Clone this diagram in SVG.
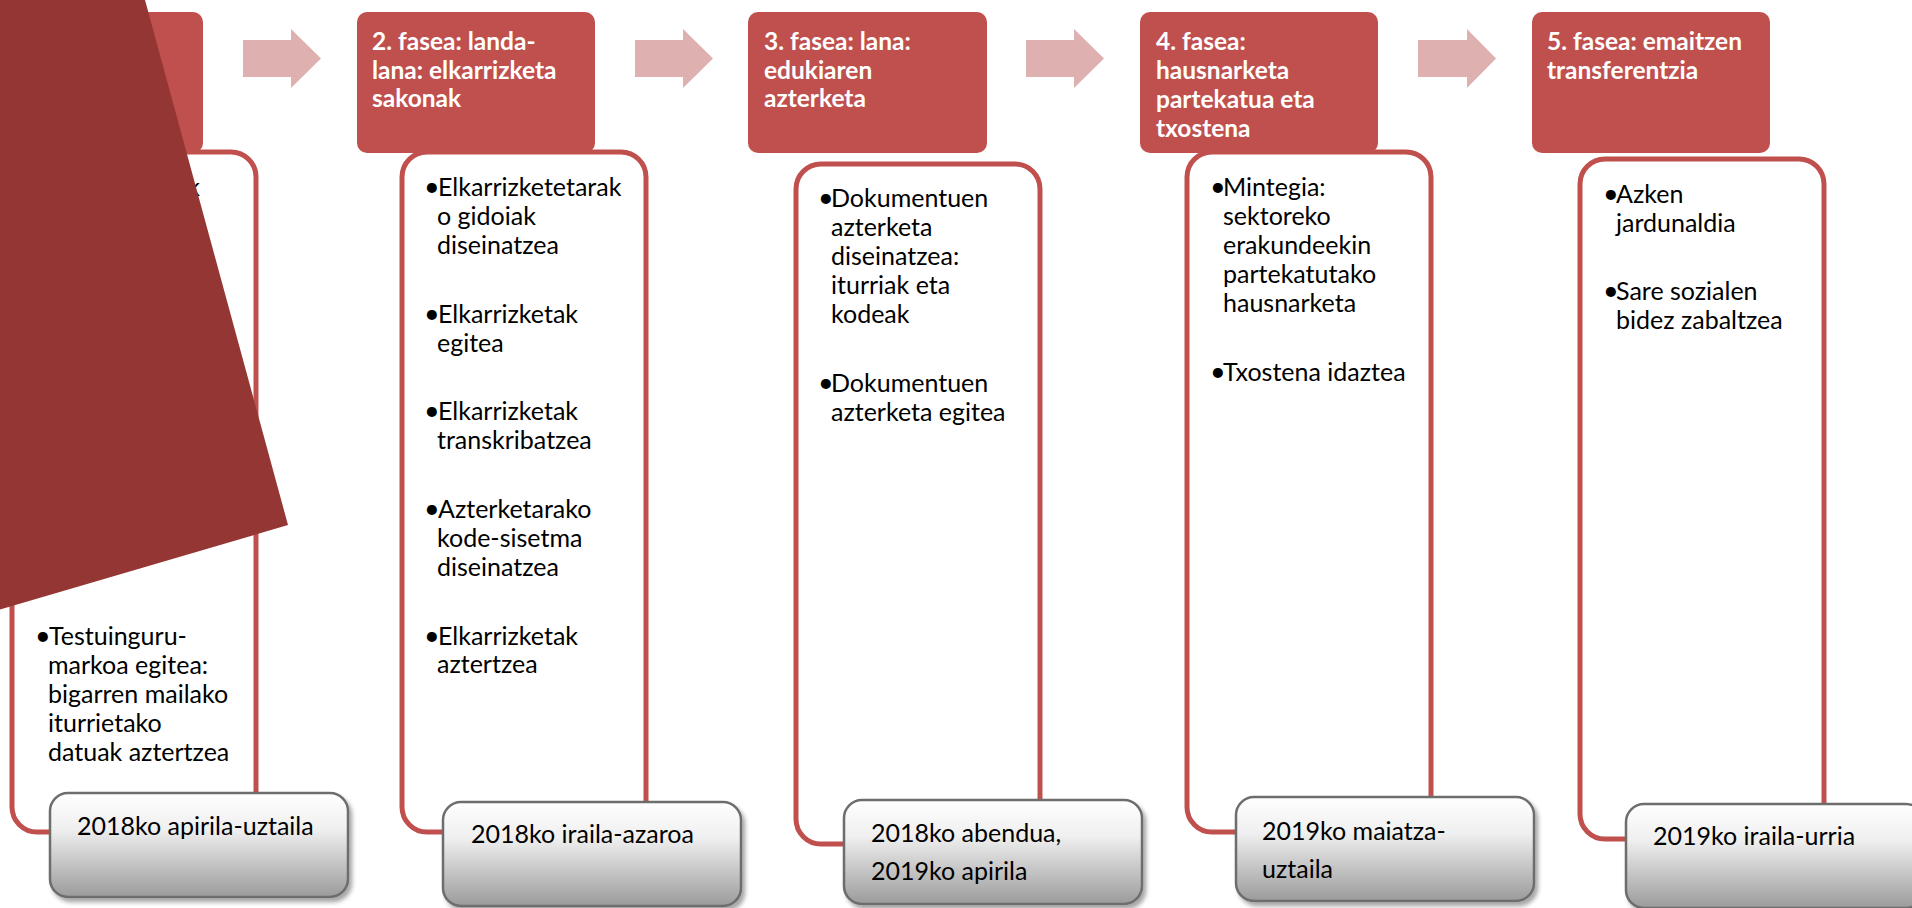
<svg xmlns="http://www.w3.org/2000/svg" width="1912" height="908" viewBox="0 0 1912 908">
<defs>
<linearGradient id="gray" x1="0" y1="0" x2="0" y2="1">
<stop offset="0" stop-color="#FFFFFF"/>
<stop offset="0.35" stop-color="#EFEFEF"/>
<stop offset="1" stop-color="#9B9B9B"/>
</linearGradient>
<filter id="sh" x="-10%" y="-10%" width="130%" height="140%">
<feDropShadow dx="3" dy="4" stdDeviation="2" flood-color="#000000" flood-opacity="0.35"/>
</filter>
<style>
.hdr{fill:#C0504D}
.hdrt{font-family:Lato,"Liberation Sans",sans-serif;font-weight:bold;font-size:24.5px;fill:#FFFFFF}
.lst{fill:#FFFFFF;stroke:#C0504D;stroke-width:5}
.body{font-family:Lato,"Liberation Sans",sans-serif;font-size:25px;fill:#000000}
.b{font-size:27px}
.date{fill:url(#gray);stroke:#6D6D6D;stroke-width:2.5;filter:url(#sh)}
.arr{fill:#DEB0AF}
</style>
</defs>
<rect width="1912" height="908" fill="#FFFFFF"/>

<g id="connectors">
<polygon class="arr" points="243,40 291,40 291,29 321,58.5 291,88 291,77 243,77"/>
<polygon class="arr" points="635,40 683,40 683,29 713,58.5 683,88 683,77 635,77"/>
<polygon class="arr" points="1026,40 1074,40 1074,29 1104,58.5 1074,88 1074,77 1026,77"/>
<polygon class="arr" points="1418,40 1467,40 1467,29 1496,58.5 1467,88 1467,77 1418,77"/>
</g>

<g id="phase1">
<rect class="hdr" x="-35" y="12" width="238" height="141" rx="10"/>
<rect class="lst" x="12" y="152" width="244" height="680" rx="25"/>
<text class="body" x="200" y="196" text-anchor="end">k</text>
<text class="body"><tspan class="b" x="35" y="645">•</tspan><tspan x="49" y="645">Testuinguru-</tspan><tspan x="48" y="674">markoa egitea:</tspan><tspan x="48" y="703">bigarren mailako</tspan><tspan x="48" y="732">iturrietako</tspan><tspan x="48" y="761">datuak aztertzea</tspan></text>
<rect class="date" x="50" y="793" width="298" height="104" rx="18"/>
<text class="body" x="77" y="835">2018ko apirila-uztaila</text>
</g>

<g id="phase2">
<rect class="hdr" x="357" y="12" width="238" height="141" rx="10"/>
<text class="hdrt"><tspan x="372" y="50">2. fasea: landa-</tspan><tspan x="372" y="79">lana: elkarrizketa</tspan><tspan x="372" y="107">sakonak</tspan></text>
<rect class="lst" x="402" y="152" width="244" height="680" rx="25"/>
<text class="body"><tspan class="b" x="424" y="196">•</tspan><tspan x="438" y="196">Elkarrizketetarak</tspan><tspan x="437" y="225">o gidoiak</tspan><tspan x="437" y="254">diseinatzea</tspan></text>
<text class="body"><tspan class="b" x="424" y="323">•</tspan><tspan x="438" y="323">Elkarrizketak</tspan><tspan x="437" y="352">egitea</tspan></text>
<text class="body"><tspan class="b" x="424" y="420">•</tspan><tspan x="438" y="420">Elkarrizketak</tspan><tspan x="437" y="449">transkribatzea</tspan></text>
<text class="body"><tspan class="b" x="424" y="518">•</tspan><tspan x="438" y="518">Azterketarako</tspan><tspan x="437" y="547">kode-sisetma</tspan><tspan x="437" y="576">diseinatzea</tspan></text>
<text class="body"><tspan class="b" x="424" y="645">•</tspan><tspan x="438" y="645">Elkarrizketak</tspan><tspan x="437" y="673">aztertzea</tspan></text>
<rect class="date" x="443" y="802" width="298" height="104" rx="18"/>
<text class="body" x="471" y="843">2018ko iraila-azaroa</text>
</g>

<g id="phase3">
<rect class="hdr" x="748" y="12" width="239" height="141" rx="10"/>
<text class="hdrt"><tspan x="764" y="50">3. fasea: lana:</tspan><tspan x="764" y="79">edukiaren</tspan><tspan x="764" y="107">azterketa</tspan></text>
<rect class="lst" x="796" y="164" width="244" height="680" rx="25"/>
<text class="body"><tspan class="b" x="818" y="207">•</tspan><tspan x="831" y="207">Dokumentuen</tspan><tspan x="831" y="236">azterketa</tspan><tspan x="831" y="265">diseinatzea:</tspan><tspan x="831" y="294">iturriak eta</tspan><tspan x="831" y="323">kodeak</tspan></text>
<text class="body"><tspan class="b" x="818" y="392">•</tspan><tspan x="831" y="392">Dokumentuen</tspan><tspan x="831" y="421">azterketa egitea</tspan></text>
<rect class="date" x="844" y="800" width="298" height="104" rx="18"/>
<text class="body"><tspan x="871" y="842">2018ko abendua,</tspan><tspan x="871" y="880">2019ko apirila</tspan></text>
</g>

<g id="phase4">
<rect class="hdr" x="1140" y="12" width="238" height="141" rx="10"/>
<text class="hdrt"><tspan x="1156" y="50">4. fasea:</tspan><tspan x="1156" y="79">hausnarketa</tspan><tspan x="1156" y="108">partekatua eta</tspan><tspan x="1156" y="137">txostena</tspan></text>
<rect class="lst" x="1187" y="152" width="244" height="680" rx="25"/>
<text class="body"><tspan class="b" x="1210" y="196">•</tspan><tspan x="1223" y="196">Mintegia:</tspan><tspan x="1223" y="225">sektoreko</tspan><tspan x="1223" y="254">erakundeekin</tspan><tspan x="1223" y="283">partekatutako</tspan><tspan x="1223" y="312">hausnarketa</tspan></text>
<text class="body"><tspan class="b" x="1210" y="381">•</tspan><tspan x="1223" y="381">Txostena idaztea</tspan></text>
<rect class="date" x="1236" y="797" width="298" height="104" rx="18"/>
<text class="body"><tspan x="1262" y="840">2019ko maiatza-</tspan><tspan x="1262" y="878">uztaila</tspan></text>
</g>

<g id="phase5">
<rect class="hdr" x="1532" y="12" width="238" height="141" rx="10"/>
<text class="hdrt"><tspan x="1547" y="50">5. fasea: emaitzen</tspan><tspan x="1547" y="79">transferentzia</tspan></text>
<rect class="lst" x="1580" y="159" width="244" height="680" rx="25"/>
<text class="body"><tspan class="b" x="1603" y="203">•</tspan><tspan x="1616" y="203">Azken</tspan><tspan x="1616" y="232">jardunaldia</tspan></text>
<text class="body"><tspan class="b" x="1603" y="300">•</tspan><tspan x="1616" y="300">Sare sozialen</tspan><tspan x="1616" y="329">bidez zabaltzea</tspan></text>
<rect class="date" x="1626" y="804" width="298" height="104" rx="18"/>
<text class="body" x="1653" y="845">2019ko iraila-urria</text>
</g>

<polygon id="overlay" points="-5,0 145,0 288,525 -5,611" fill="#943634"/>
</svg>
